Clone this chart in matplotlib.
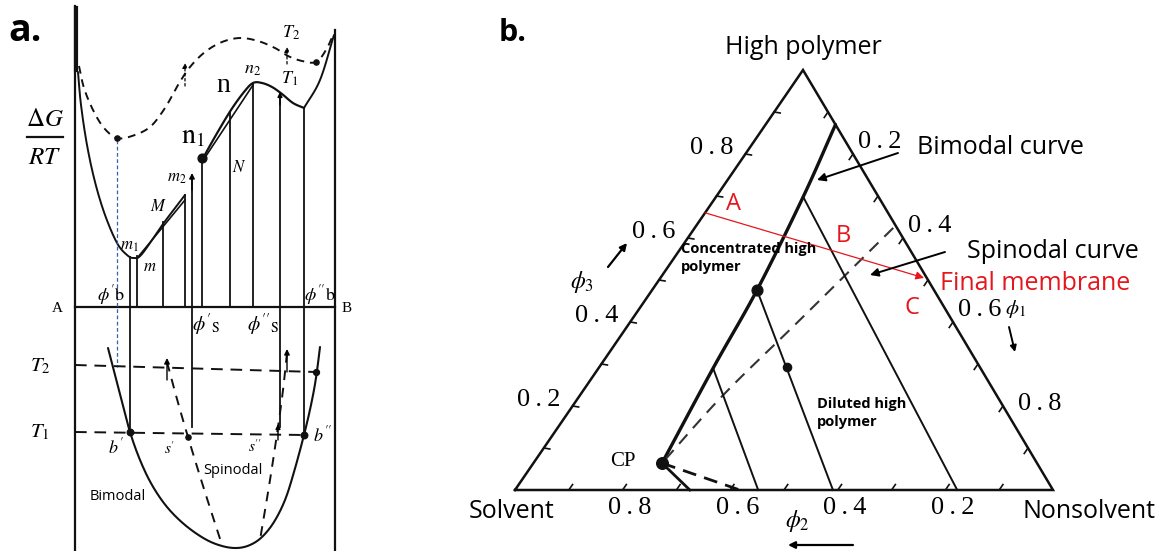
import numpy as np
import matplotlib
matplotlib.use("Agg")
import matplotlib.pyplot as plt

plt.rcParams["mathtext.fontset"] = "stix"
SERIF = ["Liberation Serif", "DejaVu Serif"]
SANS = "Open Sans"

# ---------------- Panel a : schematic points (panel pixel frame) ----------------
a_T1_left = [(78, 72), (81, 105), (87, 145), (95, 182), (105, 215), (117, 243),
             (127, 255), (134, 258), (142, 254), (163, 224), (185, 195)]
a_T1_right = [(202, 160), (216, 135), (231, 110), (244, 92), (253, 83), (262, 83),
              (272, 87), (282, 94), (293, 103), (304, 108)]
a_T1_rise = [(304, 108), (320, 80), (334, 35)]
a_T2 = [(79, 66), (84, 88), (93, 110), (104, 128), (117, 138), (132, 136), (150, 127),
        (165, 108), (178, 85), (190, 67), (205, 52), (222, 42), (240, 38), (258, 41),
        (275, 48), (288, 56), (302, 61), (316, 62), (326, 50), (334, 33)]
a_tangent_m = [(138, 257), (185, 200)]
a_tangent_n = [(202, 162), (253, 85)]
a_vline_x = [130, 137, 163, 185, 192, 202, 230, 253, 280, 304]
a_vline_top = [257, 256, 222, 195, 178, 160, 112, 84, 95, 108]
a_vline_bot = [432, 307, 307, 307, 427, 307, 307, 307, 427, 435]
a_binodal = [(108, 348), (115, 375), (122, 402), (130, 432), (140, 460), (152, 485),
             (167, 507), (185, 525), (205, 539), (222, 546), (237, 548), (250, 545),
             (262, 537), (274, 522), (285, 500), (294, 472), (304, 435), (311, 405),
             (316, 378), (320, 347)]
a_spin_left = [(167, 362), (177, 399), (188, 437), (204, 489), (222, 545)]
a_spin_right = [(287, 353), (283, 390), (278, 427), (270, 480), (260, 540)]
a_T2_line = [(75, 365), (316, 372)]
a_T1_line = [(75, 432), (304, 435)]

# ---------------- Panel b : ternary compositions (phi1 = nonsolvent, phi3 = polymer) ----
b_binodal = [(0.13, 0.87), (0.162, 0.698), (0.195, 0.476), (0.213, 0.29), (0.239, 0.064)]
b_binodal_tail = [(0.239, 0.064), (0.325, 0.0)]
b_spinodal = [(0.369, 0.624), (0.311, 0.398), (0.266, 0.226), (0.239, 0.064)]
b_spinodal_tail = [(0.239, 0.064), (0.418, 0.0)]
b_tielines = [((0.162, 0.698), (0.822, 0.0)),
              ((0.195, 0.476), (0.591, 0.0)),
              ((0.213, 0.29), (0.452, 0.0))]
b_dots = [(0.195, 0.476), (0.349, 0.293), (0.239, 0.064)]
b_path = [(0.0, 0.66), (0.49, 0.505)]
b_tick_vals = [0.2, 0.4, 0.6, 0.8]

VL, VR, VT = np.array([515, 490]), np.array([1053, 490]), np.array([803, 70])


def tern(p1, p3):
    p2 = 1 - p1 - p3
    return p2 * VL + p1 * VR + p3 * VT


def smooth(pts, n=14):
    p = np.asarray(pts, float)
    if len(p) < 3:
        return p
    P = np.vstack([2 * p[0] - p[1], p, 2 * p[-1] - p[-2]])
    out = []
    t = np.linspace(0, 1, n, endpoint=False)[:, None]
    for i in range(1, len(P) - 2):
        p0, p1, p2, p3 = P[i - 1], P[i], P[i + 1], P[i + 2]
        out.append(0.5 * (2 * p1 + (-p0 + p2) * t + (2 * p0 - 5 * p1 + 4 * p2 - p3) * t ** 2
                          + (-p0 + 3 * p1 - 3 * p2 + p3) * t ** 3))
    out.append(p[-1][None, :])
    return np.vstack(out)


W, H = 1166, 551
fig = plt.figure(figsize=(W / 100, H / 100), dpi=100)
ax = fig.add_axes([0, 0, 1, 1])
ax.set_xlim(0, W)
ax.set_ylim(H, 0)
ax.axis("off")


def line(pts, **kw):
    s = smooth(pts)
    ax.plot(s[:, 0], s[:, 1], solid_capstyle="round", **kw)


def arrow(tail, tip, lw=1.2, ms=10, color="k", ls="-"):
    ax.annotate("", xy=tip, xytext=tail,
                arrowprops=dict(arrowstyle="-|>", color=color, lw=lw, mutation_scale=ms,
                                linestyle=ls, shrinkA=0, shrinkB=0))


K = "#111111"
# ---- panel a frame
ax.plot([75, 75], [6, 551], color=K, lw=1.6)
ax.plot([335, 335], [30, 551], color=K, lw=1.6)
ax.plot([75, 335], [307, 307], color=K, lw=1.6)
ax.plot([76, 76], [8, 70], color=K, lw=3.0)

# upper curves
line(a_T1_left, color=K, lw=1.4)
line(a_T1_right, color=K, lw=1.6)
line(a_T1_rise, color=K, lw=1.4)
line(a_T2, color=K, lw=1.4, ls=(0, (4, 3)))
for seg in (a_tangent_m, a_tangent_n):
    s = np.array(seg)
    ax.plot(s[:, 0], s[:, 1], color=K, lw=1.2)
for x, t, b in zip(a_vline_x, a_vline_top, a_vline_bot):
    ax.plot([x, x], [t, b], color=K, lw=1.3)
ax.plot([117, 117], [140, 367], color="#3a5fa8", lw=0.9, ls=(0, (3, 2)))

# lower curves
line(a_binodal, color=K, lw=1.5)
line(a_spin_left, color=K, lw=1.4, ls=(0, (5, 4)))
line(a_spin_right, color=K, lw=1.4, ls=(0, (5, 4)))
for seg in (a_T2_line, a_T1_line):
    s = np.array(seg)
    ax.plot(s[:, 0], s[:, 1], color=K, lw=1.4, ls=(0, (6, 4)))

# arrows in panel a
arrow((167, 380), (167, 358), lw=1.0, ms=8)
arrow((287, 372), (287, 349), lw=1.0, ms=8)
arrow((278, 440), (278, 424), lw=1.0, ms=7)
arrow((192, 190), (192, 173), lw=1.0, ms=8)
arrow((280, 105), (280, 92), lw=1.0, ms=7)
arrow((185, 86), (185, 63), lw=0.9, ms=7, ls=(0, (2, 2)))
arrow((287, 64), (287, 47), lw=0.9, ms=7, ls=(0, (2, 2)))

# dots in panel a
for (x, y, s) in [(117, 138, 14), (316, 62, 14), (202, 158, 40), (130, 432, 22),
                  (188, 437, 14), (304, 435, 22), (316, 372, 18)]:
    ax.scatter([x], [y], s=s, color=K, zorder=5)

# panel a text
ax.text(25, 31, "a.", fontsize=27, fontweight="bold", family=SANS, ha="center", va="center")
ax.text(45, 119, r"$\Delta G$", fontsize=18, ha="center", va="center")
ax.plot([27, 63], [137, 137], color=K, lw=1.6)
ax.text(45, 157, r"$RT$", fontsize=18, ha="center", va="center")
ax.text(57, 308, "A", fontsize=11, family=SERIF, ha="center", va="center")
ax.text(347, 308, "B", fontsize=11, family=SERIF, ha="center", va="center")
ax.text(40, 366, r"$T_2$", fontsize=15, ha="center", va="center")
ax.text(40, 432, r"$T_1$", fontsize=15, ha="center", va="center")
ax.text(291, 33, r"$T_2$", fontsize=13, ha="center", va="center")
ax.text(290, 79, r"$T_1$", fontsize=13, ha="center", va="center")
ax.text(253, 69, r"$n_2$", fontsize=13, ha="center", va="center")
ax.text(223, 86, "n", fontsize=20, family=SERIF, ha="center", va="center")
ax.text(193, 135, r"$\mathrm{n}_1$", fontsize=20, ha="center", va="center")
ax.text(177, 177, r"$m_2$", fontsize=12, ha="center", va="center")
ax.text(158, 206, r"$M$", fontsize=12, ha="center", va="center")
ax.text(239, 167, r"$N$", fontsize=12, ha="center", va="center")
ax.text(129, 245, r"$m_1$", fontsize=12, ha="center", va="center")
ax.text(150, 266, r"$m$", fontsize=12, ha="center", va="center")
ax.text(111, 295, r"$\phi'\mathrm{b}$", fontsize=13, ha="center", va="center")
ax.text(320, 295, r"$\phi''\mathrm{b}$", fontsize=13, ha="center", va="center")
ax.text(206, 325, r"$\phi'_{\mathrm{S}}$", fontsize=14, ha="center", va="center")
ax.text(263, 325, r"$\phi''_{\mathrm{S}}$", fontsize=14, ha="center", va="center")
ax.text(116, 447, r"$b'$", fontsize=13, ha="center", va="center")
ax.text(170, 449, r"$s'$", fontsize=11, ha="center", va="center")
ax.text(255, 447, r"$s''$", fontsize=11, ha="center", va="center")
ax.text(323, 435, r"$b''$", fontsize=13, ha="center", va="center")
ax.text(233, 470, "Spinodal", fontsize=10.5, family=SANS, ha="center", va="center")
ax.text(118, 496, "Bimodal", fontsize=10.5, family=SANS, ha="center", va="center")

# ---------------- panel b ----------------
tri = np.array([VL, VR, VT, VL])
ax.plot(tri[:, 0], tri[:, 1], color=K, lw=1.8, solid_joinstyle="miter")

# ticks every 0.1
for v in np.arange(0.1, 0.95, 0.1):
    p = tern(0.0, v); ax.plot([p[0], p[0] + 6], [p[1], p[1] + 1], color=K, lw=1.2)
    p = tern(v, 1 - v); q = tern(v, 1 - v - 0.013); ax.plot([p[0], q[0]], [p[1], q[1]], color=K, lw=1.2)
    p = tern(1 - v, 0.0); q = tern(1 - v, 0.013); ax.plot([p[0], q[0]], [p[1], q[1]], color=K, lw=1.2)

bn = np.array([tern(*c) for c in b_binodal])
line(bn, color=K, lw=2.4)
bt = np.array([tern(*c) for c in b_binodal_tail])
ax.plot(bt[:, 0], bt[:, 1], color=K, lw=2.0)
sp = np.array([tern(*c) for c in b_spinodal])
line(sp, color="#333333", lw=1.5, ls=(0, (6, 4)))
st = np.array([tern(*c) for c in b_spinodal_tail])
ax.plot(st[:, 0], st[:, 1], color=K, lw=2.0, ls=(0, (5, 3)))
for a, b in b_tielines:
    pa, pb = tern(*a), tern(*b)
    ax.plot([pa[0], pb[0]], [pa[1], pb[1]], color=K, lw=1.4)
for c, s in zip(b_dots, [60, 35, 70]):
    p = tern(*c)
    ax.scatter([p[0]], [p[1]], s=s, color=K, zorder=5)

RED = "#e5161d"
pa, pb = tern(*b_path[0]), tern(*b_path[1])
ax.annotate("", xy=pb, xytext=pa,
            arrowprops=dict(arrowstyle="-|>", color=RED, lw=0.9, mutation_scale=12, shrinkA=0, shrinkB=0))

# annotation arrows
arrow((898, 153), (817, 180), lw=1.4, ms=12)
arrow((945, 252), (870, 275), lw=1.4, ms=12)
arrow((608, 267), (627, 243), lw=1.6, ms=10)
arrow((1009, 327), (1015, 352), lw=1.4, ms=9)
arrow((853, 545), (788, 545), lw=1.6, ms=10)

# tick labels
for v in b_tick_vals:
    lab = "0\u2009.\u2009%d" % round(v * 10)
    p = tern(0.0, v)
    ax.text(p[0] - 34, p[1] - 6, lab, fontsize=19, family=SERIF, ha="center", va="center")
    p = tern(v, 1 - v)
    ax.text(p[0] + 27 + 10 * (v > 0.7), p[1] - 12 + 10 * (v > 0.7), lab, fontsize=19,
            family=SERIF, ha="center", va="center")
    p = tern(1 - v, 0.0)
    ax.text(p[0] + 7, p[1] + 18, lab, fontsize=19, family=SERIF, ha="center", va="center")

ax.text(513, 33, "b.", fontsize=22, fontweight="bold", family=SANS, ha="center", va="center")
ax.text(803, 47, "High polymer", fontsize=18, family=SANS, ha="center", va="center")
ax.text(512, 511, "Solvent", fontsize=18, family=SANS, ha="center", va="center")
ax.text(1089, 511, "Nonsolvent", fontsize=18, family=SANS, ha="center", va="center")
ax.text(917, 148, "Bimodal curve", fontsize=18, family=SANS, ha="left", va="center")
ax.text(967, 252, "Spinodal curve", fontsize=18, family=SANS, ha="left", va="center")
ax.text(940, 284, "Final membrane", fontsize=18, family=SANS, color=RED, ha="left", va="center")
ax.text(734, 204, "A", fontsize=17, family=SANS, color=RED, ha="center", va="center")
ax.text(843, 236, "B", fontsize=17, family=SANS, color=RED, ha="center", va="center")
ax.text(912, 308, "C", fontsize=17, family=SANS, color=RED, ha="center", va="center")
ax.text(681, 258, "Concentrated high\npolymer", fontsize=10.5, fontweight="bold", family=SANS,
        ha="left", va="center", linespacing=1.45)
ax.text(817, 413, "Diluted high\npolymer", fontsize=10.5, fontweight="bold", family=SANS,
        ha="left", va="center", linespacing=1.45)
ax.text(623, 462, "CP", fontsize=15, family=SERIF, ha="center", va="center")
ax.text(582, 282, r"$\phi_3$", fontsize=17, ha="center", va="center")
ax.text(1015, 309, r"$\phi_1$", fontsize=15, ha="center", va="center")
ax.text(797, 521, r"$\phi_2$", fontsize=17, ha="center", va="center")

fig.savefig("out.png", dpi=100)
